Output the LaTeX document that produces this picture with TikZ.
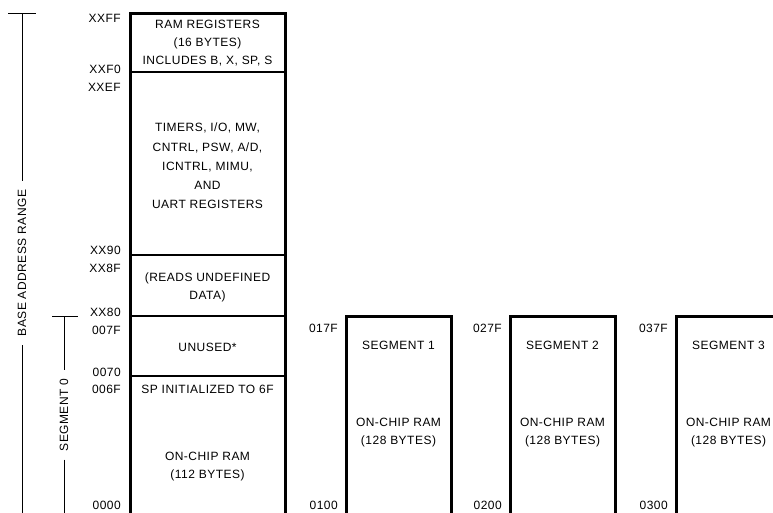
\documentclass[tikz,border=0pt]{standalone}
\usepackage{fontspec}
\setmainfont[LetterSpace=4]{Liberation Sans}
\usepackage{tikz}
\usetikzlibrary{positioning}

\tikzset{
  addr/.style={anchor=east, inner sep=0pt, font=\fontsize{12}{18}\selectfont},
  memtext/.style={align=center, inner sep=0pt, font=\fontsize{12}{18}\selectfont},
  rangelbl/.style={rotate=90, inner sep=9pt, font=\fontsize{12}{14}\selectfont},
  memwall/.style={line width=3pt},
  memdiv/.style={line width=2pt},
  rangeline/.style={line width=0.8pt}
}

\begin{document}
\begin{tikzpicture}[x=1pt, y=-1pt]
\useasboundingbox (0,0) rectangle (773,512);
\clip (0,0) rectangle (773,512);
%%%%% Base page %%%%%
\draw[memwall] (130,540) -- (130,13) -- (285,13) -- (285,540);
\foreach \y in {72,255,316,376}{
\draw[memdiv] (130,\y)--(285,\y);
}
\node[memtext] (ramreg) at (207.5,43) {RAM REGISTERS\\(16 BYTES)\\INCLUDES B, X, SP, S};
\node[memtext, font=\fontsize{12}{19.2}\selectfont] (sfr) at (207.5,166) {TIMERS, I/O, MW,\\CNTRL, PSW, A/D,\\ICNTRL, MIMU,\\AND\\UART REGISTERS};
\node[memtext] (undef) at (207.5,287) {(READS UNDEFINED\\DATA)};
\node[memtext] (unused) at (207.5,347) {UNUSED*};
\node[memtext] (spinit) at (207.5,389) {SP INITIALIZED TO 6F};
\node[memtext] (ram0) at (207.5,466.5) {ON-CHIP RAM\\(112 BYTES)};
\foreach \name/\y in {XXFF/18,XXF0/69,XXEF/87,XX90/250,XX8F/268,XX80/312,007F/330,0070/372,006F/389,0000/505.5}{
\node[addr] (a\name) at (121,\y) {\name};
}
%%%%% Segments 1-3 %%%%%
\foreach \i/\x in {1/346,2/510,3/676}{
\draw[memwall] (\x,540) -- (\x,316) -- (\x+105,316) -- (\x+105,540);
\node[memtext] (segname\i) at (\x+52.5,345) {SEGMENT \i};
\node[memtext] (segram\i) at (\x+52.5,432.5) {ON-CHIP RAM\\(128 BYTES)};
\node[addr] (segtop\i) at (\x-8,328) {0\i7F};
\node[addr] (segbot\i) at (\x-8,505.5) {0\i00};
}
%%%%% Ranges %%%%%
\coordinate (basetop) at (22,13);
\coordinate (basebot) at (22,530);
\draw[rangeline] (8,13) -- (36,13);
\node[rangelbl] (baselbl) at (22,263) {BASE ADDRESS RANGE};
\draw[rangeline] (basetop) -- (baselbl.east);
\draw[rangeline] (baselbl.west) -- (basebot);
\coordinate (seg0top) at (64,316);
\coordinate (seg0bot) at (64,530);
\draw[rangeline] (52,316) -- (78,316);
\node[rangelbl, inner sep=8pt] (seg0lbl) at (64,415) {SEGMENT 0};
\draw[rangeline] (seg0top) -- (seg0lbl.east);
\draw[rangeline] (seg0lbl.west) -- (seg0bot);
\end{tikzpicture}
\end{document}
